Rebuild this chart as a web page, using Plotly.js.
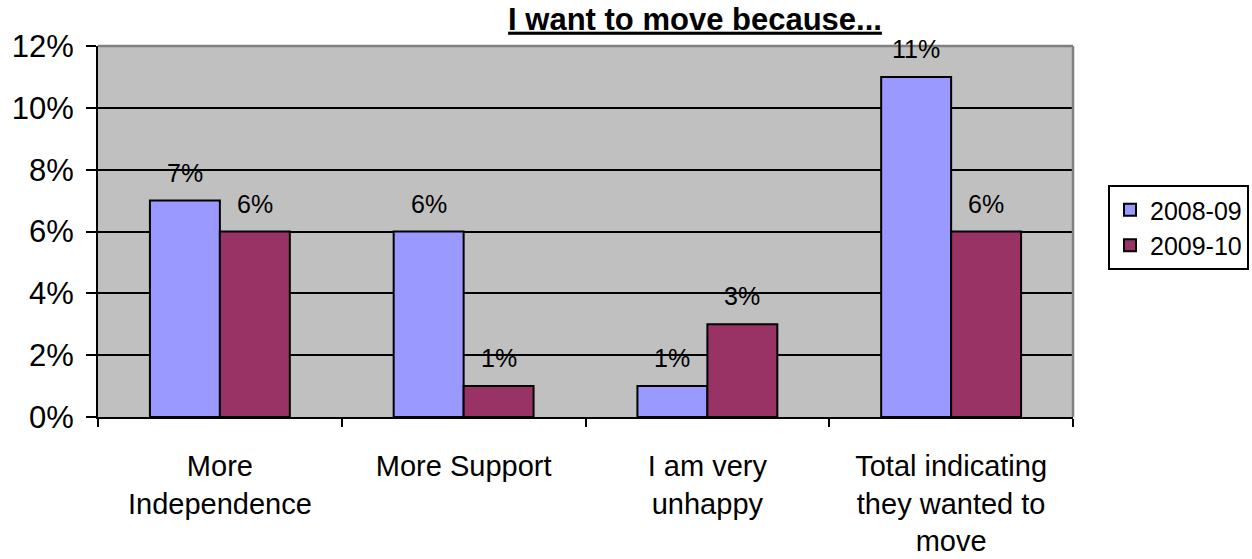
<!DOCTYPE html>
<html>
<head>
<meta charset="utf-8">
<script src="https://cdn.plot.ly/plotly-3.0.1.min.js"></script>
<style>html,body{margin:0;padding:0;background:#fff;}#chart{width:1252px;height:559px;}</style>
</head>
<body>
<div id="chart"></div>
<script>
const categories = ["More<br>Independence", "More Support", "I am very<br>unhappy", "Total indicating<br>they wanted to<br>move"];
const seriesNames = ["2008-09", "2009-10"];
const values2008 = [7, 6, 1, 11];
const values2009 = [6, 1, 3, 6];
const yTicks = [0, 2, 4, 6, 8, 10, 12];

const FONT = "Liberation Sans, Arial, sans-serif";
const BARGAP = 0.426;
const colors = ["#9999FF", "#993366"];
const allValues = [values2008, values2009];

const traces = allValues.map((vals, i) => ({
  type: "bar",
  name: seriesNames[i],
  x: categories,
  y: vals,
  marker: { color: colors[i], line: { color: "#000", width: 2 } },
  hoverinfo: "skip"
}));

const halfBar = (1 - BARGAP) / 2;
const annotations = [];
allValues.forEach((vals, s) => {
  vals.forEach((v, c) => {
    annotations.push({
      x: c + (s === 0 ? -halfBar / 2 : halfBar / 2),
      y: v,
      xref: "x", yref: "y",
      text: v + "%",
      showarrow: false,
      yanchor: "bottom",
      yshift: 12,
      font: { family: FONT, size: 25, color: "#000" }
    });
  });
});

const layout = {
  width: 1252, height: 559,
  margin: { l: 98, r: 179, t: 46, b: 142, autoexpand: false },
  paper_bgcolor: "#fff",
  plot_bgcolor: "#C0C0C0",
  barmode: "group",
  bargap: BARGAP,
  bargroupgap: 0,
  title: {
    text: "<b><u>I want to move because...</u></b>",
    font: { family: FONT, size: 31, color: "#000" },
    x: 695 / 1252, xanchor: "center",
    xref: "container", yref: "container",
    y: 1 - 8 / 559, yanchor: "top",
    pad: { t: 0, b: 0, l: 0, r: 0 },
    automargin: false
  },
  xaxis: {
    type: "category",
    showgrid: false,
    showline: true, linecolor: "#000", linewidth: 2,
    ticks: "outside", ticklen: 8, tickwidth: 2, tickcolor: "#000",
    tickson: "boundaries",
    ticklabelstandoff: 22,
    tickfont: { family: FONT, size: 29, color: "#000" },
    fixedrange: true
  },
  yaxis: {
    range: [0, 12],
    tickvals: yTicks,
    ticktext: yTicks.map(v => v + "%"),
    showgrid: true, gridcolor: "#000", gridwidth: 2,
    zeroline: false,
    showline: true, linecolor: "#000", linewidth: 2,
    ticks: "outside", ticklen: 10, tickwidth: 2, tickcolor: "#000",
    ticklabelstandoff: 6,
    tickfont: { family: FONT, size: 31, color: "#000" },
    fixedrange: true
  },
  legend: {
    x: (1108 - 98) / 975, xanchor: "left",
    y: (417 - 185) / 371, yanchor: "top",
    bgcolor: "#fff",
    bordercolor: "#000", borderwidth: 2,
    font: { family: FONT, size: 25, color: "#000" },
    traceorder: "normal"
  },
  shapes: [
    { type: "line", xref: "paper", yref: "paper", x0: 0, x1: 1, y0: 1, y1: 1, line: { color: "#808080", width: 2.5 } },
    { type: "line", xref: "paper", yref: "paper", x0: 1, x1: 1, y0: 0, y1: 1, line: { color: "#808080", width: 2.5 } }
  ],
  annotations: annotations,
  showlegend: true
};

Plotly.newPlot("chart", traces, layout, { displayModeBar: false, staticPlot: true });
</script>
</body>
</html>
